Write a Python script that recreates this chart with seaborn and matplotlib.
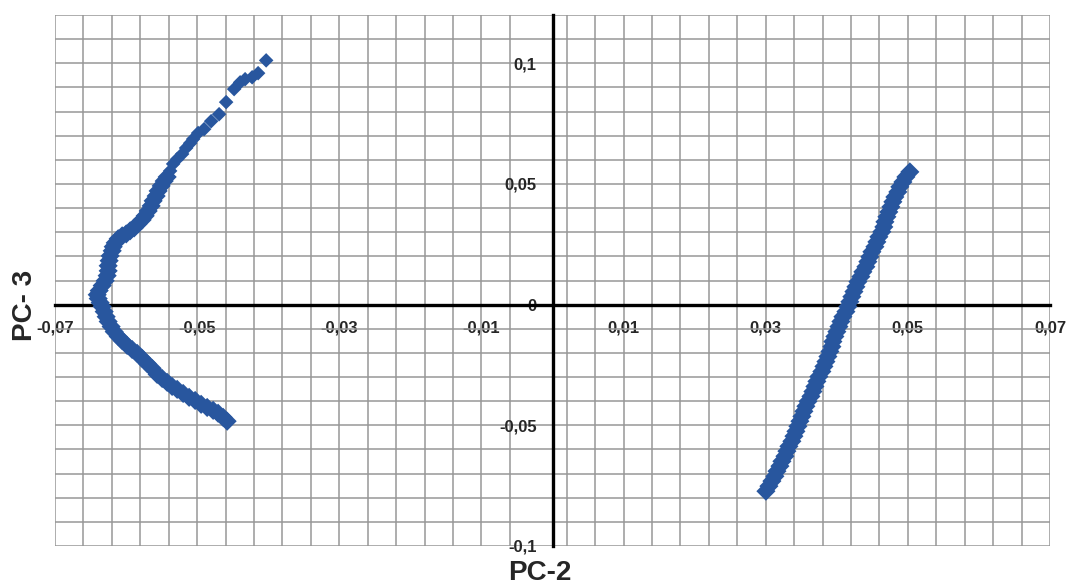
import numpy as np
import pandas as pd
import seaborn as sns
import matplotlib.pyplot as plt
from matplotlib.ticker import FixedLocator, FuncFormatter

# PC scores (left cluster, top end -> bottom end)
left_pc2 = [
    -0.04029, -0.04142, -0.04226, -0.04325, -0.04395, -0.04480, -0.04592, -0.04691,
    -0.04803, -0.04902, -0.04986, -0.05056, -0.05098, -0.05155, -0.05211, -0.05281,
    -0.05338, -0.05380, -0.05422, -0.05464, -0.05506, -0.05549, -0.05577, -0.05619,
    -0.05647, -0.05689, -0.05731, -0.05774, -0.05830, -0.05886, -0.05942, -0.05998,
    -0.06055, -0.06111, -0.06153, -0.06181, -0.06195, -0.06224, -0.06238, -0.06252,
    -0.06252, -0.06266, -0.06294, -0.06336, -0.06378, -0.06406, -0.06392, -0.06364,
    -0.06336, -0.06308, -0.06280, -0.06252, -0.06210, -0.06167, -0.06111, -0.06055,
    -0.05985, -0.05914, -0.05844, -0.05774, -0.05703, -0.05633, -0.05563, -0.05492,
    -0.05422, -0.05352, -0.05281, -0.05197, -0.05113, -0.05028, -0.04944, -0.04859,
    -0.04775, -0.04705, -0.04634, -0.04578,
]
left_pc3 = [
    0.1012, 0.0959, 0.0942, 0.0934, 0.0921, 0.0893, 0.0839, 0.0789,
    0.0760, 0.0727, 0.0711, 0.0686, 0.0669, 0.0649, 0.0624, 0.0603,
    0.0583, 0.0554, 0.0529, 0.0512, 0.0492, 0.0471, 0.0450, 0.0430,
    0.0409, 0.0388, 0.0368, 0.0351, 0.0335, 0.0318, 0.0306, 0.0293,
    0.0285, 0.0273, 0.0256, 0.0240, 0.0223, 0.0202, 0.0182, 0.0161,
    0.0140, 0.0120, 0.0099, 0.0079, 0.0058, 0.0041, 0.0025, 0.0008,
    -0.0008, -0.0029, -0.0050, -0.0070, -0.0091, -0.0112, -0.0132, -0.0149,
    -0.0169, -0.0186, -0.0202, -0.0223, -0.0244, -0.0264, -0.0289, -0.0306,
    -0.0322, -0.0339, -0.0351, -0.0368, -0.0384, -0.0397, -0.0413, -0.0426,
    -0.0438, -0.0450, -0.0467, -0.0483,
]

# right cluster, top end -> bottom end
right_pc2 = [
    0.05028, 0.04972, 0.04930, 0.04887, 0.04859, 0.04817, 0.04789, 0.04761,
    0.04732, 0.04705, 0.04677, 0.04662, 0.04634, 0.04592, 0.04564, 0.04536,
    0.04494, 0.04465, 0.04437, 0.04409, 0.04367, 0.04339, 0.04297, 0.04269,
    0.04241, 0.04212, 0.04184, 0.04156, 0.04128, 0.04086, 0.04058, 0.04030,
    0.04001, 0.03973, 0.03945, 0.03931, 0.03903, 0.03875, 0.03847, 0.03819,
    0.03790, 0.03748, 0.03720, 0.03692, 0.03664, 0.03636, 0.03594, 0.03565,
    0.03537, 0.03509, 0.03481, 0.03453, 0.03425, 0.03397, 0.03368, 0.03326,
    0.03298, 0.03270, 0.03228, 0.03200, 0.03158, 0.03129, 0.03087, 0.03045,
    0.03003,
]
right_pc3 = [
    0.0550, 0.0529, 0.0508, 0.0488, 0.0467, 0.0446, 0.0426, 0.0405,
    0.0384, 0.0364, 0.0343, 0.0322, 0.0302, 0.0281, 0.0260, 0.0240,
    0.0219, 0.0198, 0.0178, 0.0157, 0.0136, 0.0116, 0.0095, 0.0074,
    0.0054, 0.0033, 0.0012, -0.0008, -0.0029, -0.0050, -0.0070, -0.0091,
    -0.0112, -0.0132, -0.0153, -0.0174, -0.0194, -0.0215, -0.0236, -0.0256,
    -0.0277, -0.0298, -0.0318, -0.0339, -0.0360, -0.0380, -0.0401, -0.0421,
    -0.0442, -0.0463, -0.0483, -0.0504, -0.0525, -0.0545, -0.0566, -0.0587,
    -0.0607, -0.0628, -0.0649, -0.0669, -0.0690, -0.0711, -0.0731, -0.0752,
    -0.0773,
]

df = pd.DataFrame({
    "PC2": left_pc2 + right_pc2,
    "PC3": left_pc3 + right_pc3,
})
# the upper tail of the left cluster is sparse, the rest is one dense band
n_sparse = 18

sns.set_style("white")
plt.rcParams["font.family"] = ["Liberation Sans", "DejaVu Sans"]

fig = plt.figure(figsize=(10.68, 5.86), dpi=100)
ax = fig.add_axes([55 / 1068, 40 / 586, 995 / 1068, 531 / 586])

blue = "#28569E"
sns.scatterplot(data=df.iloc[:n_sparse], x="PC2", y="PC3", marker="D", s=55,
                color=blue, edgecolor="none", linewidth=0, ax=ax, zorder=4)
sns.scatterplot(data=df.iloc[n_sparse:], x="PC2", y="PC3", marker="D", s=95,
                color=blue, edgecolor="none", linewidth=0, ax=ax, zorder=4)

ax.set_xlim(-0.07, 0.07)
ax.set_ylim(-0.1, 0.12)

# ticks / grid
x_major = np.arange(-0.07, 0.0701, 0.02)
x_minor = [v for v in np.arange(-0.07, 0.0701, 0.004) if abs(v + 0.002) > 1e-6]
y_major = [-0.1, -0.05, 0, 0.05, 0.1]
y_minor = np.arange(-0.1, 0.1201, 0.01)
ax.xaxis.set_major_locator(FixedLocator(x_major))
ax.xaxis.set_minor_locator(FixedLocator(x_minor))
ax.yaxis.set_major_locator(FixedLocator(y_major))
ax.yaxis.set_minor_locator(FixedLocator(y_minor))

comma = FuncFormatter(lambda v, p: f"{round(v, 4):g}".replace(".", ","))
ax.xaxis.set_major_formatter(comma)
ax.yaxis.set_major_formatter(comma)

ax.grid(which="both", color="#979797", linewidth=1.1, zorder=0)
ax.set_axisbelow(True)

# axes crossing at origin
for side in ["top", "right"]:
    ax.spines[side].set_visible(False)
ax.spines["left"].set_position(("data", 0))
ax.spines["bottom"].set_position(("data", 0))
for side in ["left", "bottom"]:
    ax.spines[side].set_linewidth(2.4)
    ax.spines[side].set_color("black")
    ax.spines[side].set_zorder(3)

ax.tick_params(which="major", direction="inout", length=9, width=2.2, color="black")
ax.tick_params(which="minor", direction="inout", length=5, width=2.0, color="black")
ax.tick_params(axis="x", which="major", pad=7)
ax.tick_params(axis="y", which="major", pad=7)
for lab in ax.get_xticklabels() + ax.get_yticklabels():
    lab.set_fontsize(12)
    lab.set_fontweight("bold")

ax.set_xlabel("")
ax.set_ylabel("")
fig.text(540 / 1068, 1 - 573 / 586, "PC-2", ha="center", va="center",
         fontsize=20, fontweight="bold")
fig.text(25 / 1068, 1 - 305 / 586, "PC- 3", ha="center", va="center",
         rotation=90, fontsize=20, fontweight="bold")

plt.savefig("out.png", dpi=100)
